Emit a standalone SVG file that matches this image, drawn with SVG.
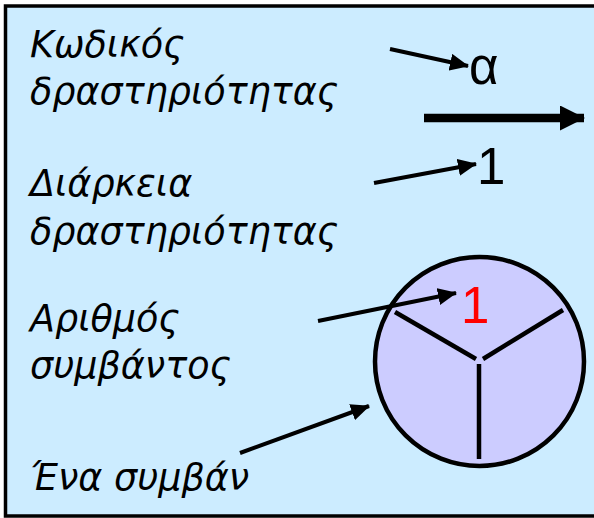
<svg xmlns="http://www.w3.org/2000/svg" width="594" height="518" viewBox="0 0 594 518">
<defs>
<style>
.lbl{font-family:"DejaVu Sans","Liberation Sans",sans-serif;font-style:italic;font-size:36.5px;fill:#000}
.val{font-family:"Liberation Sans",Arial,sans-serif;fill:#000}
.ln{stroke:#000;stroke-width:4;fill:none}
.sp{stroke:#000;stroke-width:4.5;fill:none}
</style>
<marker id="ah" viewBox="0 0 19 17" refX="18" refY="8.5" markerWidth="19" markerHeight="17" markerUnits="userSpaceOnUse" orient="auto">
<path d="M0,0 L19,8.5 L0,17 Z" fill="#000"/>
</marker>
<marker id="ahb" viewBox="0 0 25 25" refX="24" refY="12.5" markerWidth="25" markerHeight="25" markerUnits="userSpaceOnUse" orient="auto">
<path d="M0,0 L25,12.5 L0,25 Z" fill="#000"/>
</marker>
</defs>
<rect x="0" y="0" width="594" height="518" fill="#fff"/>
<rect id="frame" x="5.5" y="6" width="600" height="510" fill="#CCECFF" stroke="#000" stroke-width="3.5"/>
<g id="event">
<circle cx="479.5" cy="361.5" r="104.5" fill="#CCCCFF" stroke="#000" stroke-width="4.5"/>
<line class="sp" x1="395" y1="312" x2="476" y2="359"/>
<line class="sp" x1="563" y1="310" x2="483" y2="359"/>
<line class="sp" x1="479" y1="364" x2="479" y2="459"/>
</g>
<g id="label-code">
<text class="lbl" x="30" y="57">Κωδικός</text>
<text class="lbl" x="30" y="104">δραστηριότητας</text>
</g>
<g id="label-duration">
<text class="lbl" x="30" y="196">Διάρκεια</text>
<text class="lbl" x="30" y="244">δραστηριότητας</text>
</g>
<g id="label-number">
<text class="lbl" x="30" y="331">Αριθμός</text>
<text class="lbl" x="30" y="378">συμβάντος</text>
</g>
<g id="label-event">
<text class="lbl" x="30" y="490">Ένα συμβάν</text>
</g>
<g id="value-code"><text class="val" x="469" y="84" font-size="51">α</text></g>
<g id="value-duration"><text class="val" x="477" y="184" font-size="51">1</text></g>
<g id="value-number"><text class="val" x="461" y="323" font-size="51" style="fill:#FF0000">1</text></g>
<g id="connectors">
<line class="ln" x1="390" y1="49" x2="468" y2="66" marker-end="url(#ah)"/>
<line x1="424" y1="118" x2="584" y2="118" stroke="#000" stroke-width="8.5" marker-end="url(#ahb)"/>
<line class="ln" x1="374" y1="183" x2="476" y2="164" marker-end="url(#ah)"/>
<line class="ln" x1="318" y1="321" x2="456" y2="293" marker-end="url(#ah)"/>
<line class="ln" x1="240" y1="453" x2="369" y2="406" marker-end="url(#ah)"/>
</g>
</svg>
